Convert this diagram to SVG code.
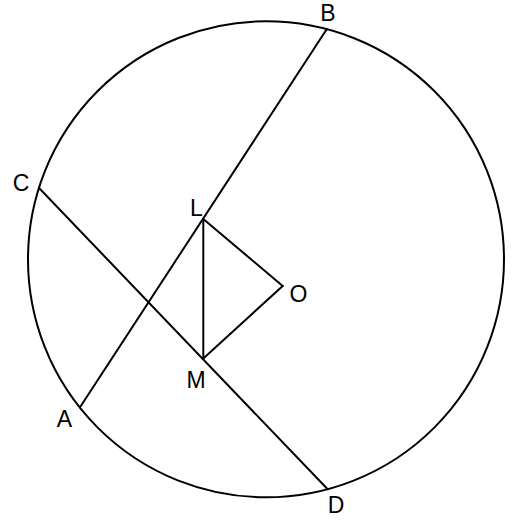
<svg xmlns="http://www.w3.org/2000/svg" width="515" height="526" viewBox="0 0 515 526">
<style>
.ln{stroke:#000;stroke-width:2;fill:none;stroke-linecap:round}
.lb{font-family:"Liberation Sans",Arial,sans-serif;font-size:23px;fill:#000;text-anchor:middle}
</style>
<rect width="515" height="526" fill="#fff"/>
<g id="circle"><circle class="ln" cx="266" cy="259.3" r="238"/></g>
<g id="connectors">
<line class="ln" x1="80" y1="407.3" x2="326.7" y2="29.3"/>
<line class="ln" x1="39.3" y1="188.3" x2="327.7" y2="489.3"/>
<line class="ln" x1="203.3" y1="219" x2="203.3" y2="358.5"/>
<line class="ln" x1="203.3" y1="219" x2="282.7" y2="286"/>
<line class="ln" x1="203.3" y1="358.5" x2="282.7" y2="286"/>
</g>
<g id="A"><text class="lb" x="64.5" y="427">A</text></g>
<g id="B"><text class="lb" x="328" y="21">B</text></g>
<g id="C"><text class="lb" x="21" y="191">C</text></g>
<g id="D"><text class="lb" x="336" y="513">D</text></g>
<g id="L"><text class="lb" x="196.5" y="216">L</text></g>
<g id="M"><text class="lb" x="196" y="388">M</text></g>
<g id="O"><text class="lb" x="298.5" y="302">O</text></g>
</svg>
